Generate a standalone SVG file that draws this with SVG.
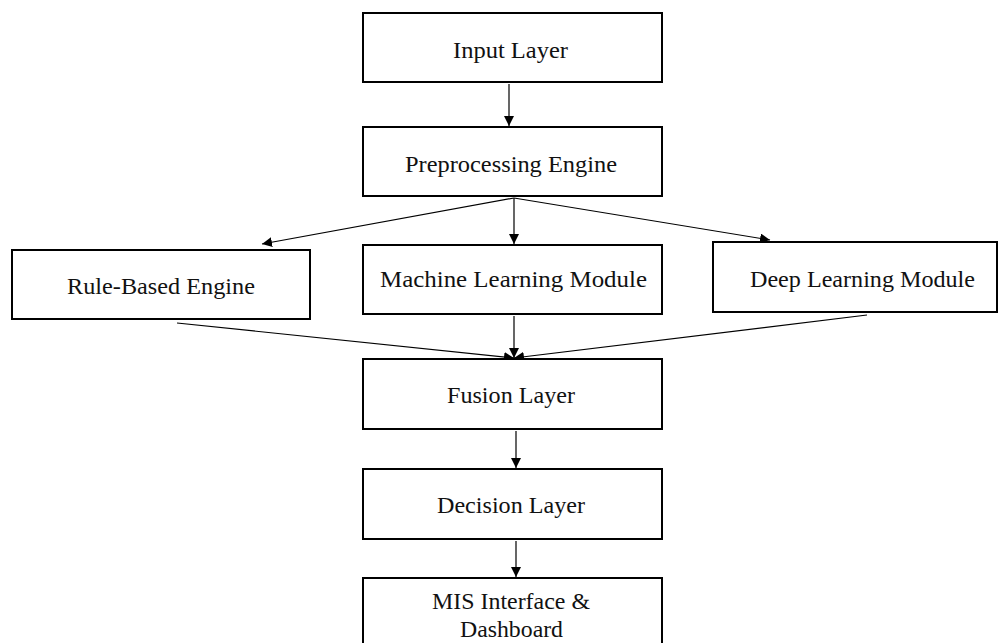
<svg xmlns="http://www.w3.org/2000/svg" width="998" height="643" viewBox="0 0 998 643">
<defs>
<style>
.box{fill:#fff;stroke:#000;stroke-width:2}
.lbl{font-family:"Liberation Serif","Times New Roman",serif;font-size:23px;fill:#111;text-anchor:middle}
.edge{stroke:#000;stroke-width:1.2;fill:none}
</style>
<marker id="ah" viewBox="0 0 10 10" refX="10" refY="5" markerWidth="10" markerHeight="10" markerUnits="userSpaceOnUse" orient="auto">
<path d="M0,0 L10,5 L0,10 z" fill="#000"/>
</marker>
</defs>
<rect width="998" height="643" fill="#fff"/>
<g id="connectors">
<line class="edge" x1="509" y1="84" x2="509" y2="126" marker-end="url(#ah)"/>
<line class="edge" x1="514" y1="198" x2="262" y2="244" marker-end="url(#ah)"/>
<line class="edge" x1="514" y1="198" x2="514" y2="244" marker-end="url(#ah)"/>
<line class="edge" x1="514" y1="198" x2="770" y2="240" marker-end="url(#ah)"/>
<line class="edge" x1="177" y1="323" x2="514" y2="358" marker-end="url(#ah)"/>
<line class="edge" x1="514" y1="316" x2="514" y2="358" marker-end="url(#ah)"/>
<line class="edge" x1="867" y1="315" x2="514" y2="358" marker-end="url(#ah)"/>
<line class="edge" x1="516" y1="431" x2="516" y2="468" marker-end="url(#ah)"/>
<line class="edge" x1="516" y1="541" x2="516" y2="577" marker-end="url(#ah)"/>
</g>
<g id="input">
<rect class="box" x="363" y="13" width="299" height="69"/>
<text class="lbl" x="510.5" y="58" textLength="115" lengthAdjust="spacingAndGlyphs">Input Layer</text>
</g>
<g id="preprocessing">
<rect class="box" x="363" y="127" width="299" height="69"/>
<text class="lbl" x="511" y="172" textLength="212" lengthAdjust="spacingAndGlyphs">Preprocessing Engine</text>
</g>
<g id="rule">
<rect class="box" x="12" y="250" width="298" height="69"/>
<text class="lbl" x="161" y="294" textLength="188" lengthAdjust="spacingAndGlyphs">Rule-Based Engine</text>
</g>
<g id="ml">
<rect class="box" x="363" y="245" width="299" height="69"/>
<text class="lbl" x="513.5" y="287" textLength="267" lengthAdjust="spacingAndGlyphs">Machine Learning Module</text>
</g>
<g id="dl">
<rect class="box" x="713" y="242" width="284" height="70"/>
<text class="lbl" x="862.5" y="287" textLength="225" lengthAdjust="spacingAndGlyphs">Deep Learning Module</text>
</g>
<g id="fusion">
<rect class="box" x="363" y="359" width="299" height="70"/>
<text class="lbl" x="511" y="403" textLength="128" lengthAdjust="spacingAndGlyphs">Fusion Layer</text>
</g>
<g id="decision">
<rect class="box" x="363" y="469" width="299" height="70"/>
<text class="lbl" x="511" y="513" textLength="148" lengthAdjust="spacingAndGlyphs">Decision Layer</text>
</g>
<g id="mis">
<rect class="box" x="363" y="578" width="299" height="80"/>
<text class="lbl" x="511" y="609" textLength="158" lengthAdjust="spacingAndGlyphs">MIS Interface &amp;</text>
<text class="lbl" x="511.5" y="637" textLength="103" lengthAdjust="spacingAndGlyphs">Dashboard</text>
</g>
</svg>
